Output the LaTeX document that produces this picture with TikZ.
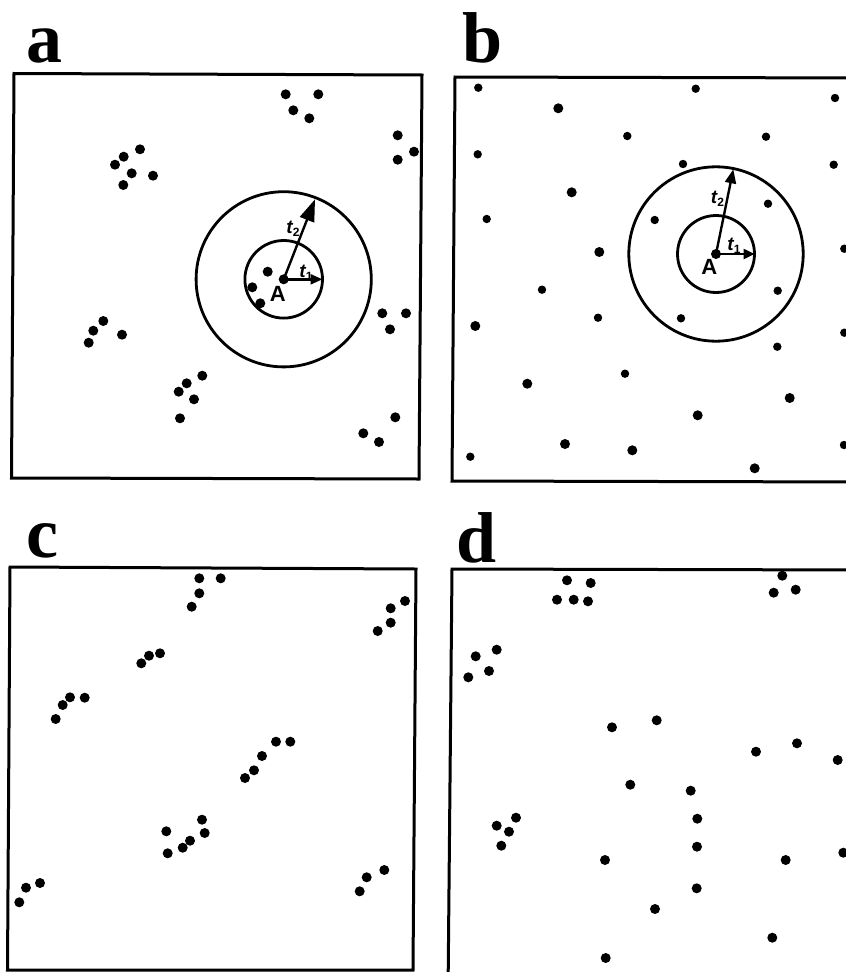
\documentclass[tikz,border=0pt]{standalone}
\usepackage{fontspec}
\setmainfont{Liberation Serif}
\newfontfamily\lblsans{Liberation Sans}
\usetikzlibrary{arrows.meta}
\tikzset{
  frame/.style={line width=3pt, line join=miter},
  ring/.style={line width=2.8pt},
  panellabel/.style={anchor=base west, inner sep=0pt, font=\fontsize{72}{72}\selectfont\bfseries},
  bigdot/.style={fill=black},
  ptA/.style={inner sep=0pt, font=\lblsans\bfseries\fontsize{22}{22}\selectfont},
  tlab/.style={inner sep=0pt, font=\lblsans\bfseries\itshape\fontsize{19}{19}\selectfont},
  radarrow/.style={line width=2.4pt},
}
\newcommand{\tsub}[1]{t\kern0.3pt\raisebox{-3.5pt}{\fontsize{12}{12}\selectfont\upshape #1}}
\begin{document}
\begin{tikzpicture}[x=1pt,y=-1pt]
\useasboundingbox (0,0) rectangle (846,972);
% panel labels
\node[panellabel] (la) at (26,62) {a};
\node[panellabel] (lb) at (462,62) {b};
\node[panellabel] (lc) at (26,557) {c};
\node[panellabel] (ld) at (456,562) {d};
% frames
\draw[frame] (14,73.5) -- (422,75) -- (419,479) -- (11.5,478) -- cycle;
\draw[frame] (455,77) -- (870,78) -- (870,482) -- (452,481) -- cycle;
\draw[frame] (10,567) -- (416,569) -- (413,970) -- (7.5,970) -- cycle;
\draw[frame] (452,569) -- (870,570) -- (870,995) -- (448,995) -- cycle;

% ---------- panel a ----------
\foreach \x/\y in {285.7/94.3, 318.3/94.3, 293.3/110.3, 309.3/118.3,
  397.7/135.3, 414/151.7, 397.7/159.7,
  140/149.3, 123.7/156.7, 115/164.7, 131.7/173.3, 153/175.7, 123.3/185,
  267.7/271.7, 252.3/287.3, 260.3/303.3,
  382.3/313.3, 406/313.3, 390/329.3,
  103.3/321, 93.3/330.7, 88.7/342.7, 122/334.7,
  202.3/375.7, 186.7/383.3, 178.7/391.7, 194/399.3, 180/418.3,
  395.3/417.3, 363.3/433.3, 379/442}
  \fill[bigdot] (\x,\y) circle (5);
\coordinate (Aa) at (283.7,279.3);
\draw[ring] (Aa) circle (38.8);
\draw[ring] (Aa) circle (87.6);
\fill (Aa) circle (5);
\coordinate (Aa1) at (322.5,279.3);
\coordinate (Aa2) at (315,199.3);
\draw[radarrow,-{Triangle[length=12pt,width=10pt]}] (Aa) -- (Aa1);
\draw[radarrow,-{Triangle[length=22pt,width=15pt]}] (Aa) -- (Aa2);
\node[ptA] (la1) at (277.7,294) {A};
\node[tlab] (lat1) at (306,273) {\tsub{1}};
\node[tlab] (lat2) at (293,229) {\tsub{2}};

% ---------- panel b ----------
\foreach \x/\y in {478.3/87.7, 695.7/88.7, 835/98, 627.3/136, 766/136.7,
  477.7/154.3, 683/164, 833.7/164.7, 768/203.7, 486.7/219, 654.7/220,
  542/289.7, 777.7/290.7, 598/317.7, 681/318.3, 777.3/346.7, 625/373.7,
  470.3/456.7, 844.3/248.7, 844.3/332.7, 844/445}
  \fill[bigdot] (\x,\y) circle (4.2);
\foreach \x/\y in {558.3/108.3, 571.7/192.3, 599.3/252, 475.3/326,
  527.3/383.7, 789.7/398, 697.7/415.3, 565/444, 632.3/450.3, 754.7/468.3}
  \fill[bigdot] (\x,\y) circle (5);
\coordinate (Ab) at (716,254);
\draw[ring] (Ab) circle (38.5);
\draw[ring] (Ab) circle (87.2);
\fill (Ab) circle (5);
\coordinate (Ab1) at (754.5,254);
\coordinate (Ab2) at (733.3,169.3);
\draw[radarrow,-{Triangle[length=11pt,width=10pt]}] (Ab) -- (Ab1);
\draw[radarrow,-{Triangle[length=14pt,width=11pt]}] (Ab) -- (Ab2);
\node[ptA] (lb1) at (709.3,266.7) {A};
\node[tlab] (lbt1) at (734,246) {\tsub{1}};
\node[tlab] (lbt2) at (717.5,199) {\tsub{2}};

% ---------- panel c ----------
\foreach \x/\y in {199.3/578.3, 220.7/578.3, 199.3/593.3, 191.7/606.7,
  405/601, 390.7/608.3, 390.7/622.7, 377.7/631,
  160/653.3, 149/655.7, 141.3/663.3,
  70/697.3, 84.7/697.7, 62.7/705, 55.7/719,
  276/741.7, 290.3/741.7, 262/756, 254/770.3, 245/778,
  202/819.7, 166.3/831.3, 204.7/833, 190/840.7, 182.7/847.7, 167.7/853.3,
  384.3/870, 366.7/877.3, 359.7/891.3,
  40/883, 26/887.7, 19.3/902.3}
  \fill[bigdot] (\x,\y) circle (5);

% ---------- panel d ----------
\foreach \x/\y in {567/580.3, 590.7/583, 557/599.7, 573.7/599.7, 588/601.3,
  782.3/575.7, 773.7/592.7, 795.7/589.7,
  496.7/649.7, 475.7/656.3, 489/671, 468.3/677.3,
  612/727.3, 656.7/720.3, 756/751.7, 797/743.3, 837.7/760,
  630.3/784.7, 690.7/790.7, 697.3/818.7,
  516/817.7, 496.7/825.7, 509/831.7, 501.3/845.7,
  697/846.7, 605/860, 785.7/860, 843.3/852.7,
  696.7/888.3, 655/909, 772.3/937.7, 605.7/958}
  \fill[bigdot] (\x,\y) circle (5);
\end{tikzpicture}
\end{document}
